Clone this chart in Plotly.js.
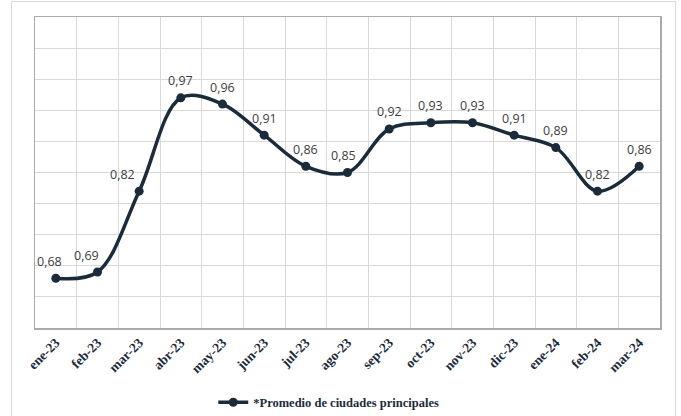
<!DOCTYPE html>
<html>
<head>
<meta charset="utf-8">
<script src="https://cdn.plot.ly/plotly-3.0.1.min.js"></script>
<style>
  html, body { margin: 0; padding: 0; background: #ffffff; }
  #frame { position: absolute; left: 11px; top: 1px; width: 665px; height: 440px; border: 1px solid #d9d9d9; box-sizing: border-box; }
  #chart { position: absolute; left: 0; top: 0; width: 681px; height: 416px; }
</style>
</head>
<body>
<div id="frame"></div>
<div id="chart"></div>
<script>
const months = ["ene-23","feb-23","mar-23","abr-23","may-23","jun-23","jul-23","ago-23","sep-23","oct-23","nov-23","dic-23","ene-24","feb-24","mar-24"];
const values = [0.68, 0.69, 0.82, 0.97, 0.96, 0.91, 0.86, 0.85, 0.92, 0.93, 0.93, 0.91, 0.89, 0.82, 0.86];
const seriesName = "*Promedio de ciudades principales";
const labelShift = [-6, -11, -17, 0, 0, 0, 0, -4, 0, 0, 0, 0, 0, 0, 0];

const navy = "#1c2b3b";

const trace = {
  x: months,
  y: values,
  type: "scatter",
  mode: "lines+markers",
  name: seriesName,
  line: { color: navy, width: 3.5, shape: "spline", smoothing: 1 },
  marker: { color: navy, size: 9 },
  hoverinfo: "none"
};

const annotations = values.map((v, i) => ({
  x: months[i],
  y: v,
  xref: "x",
  yref: "y",
  text: v.toFixed(2).replace(".", ","),
  showarrow: false,
  xanchor: "center",
  yanchor: "middle",
  xshift: labelShift[i],
  yshift: 17,
  font: { family: "Open Sans, sans-serif", size: 12.5, color: "#404040" }
}));

const layout = {
  width: 681,
  height: 416,
  margin: { l: 35, r: 21, t: 17, b: 88, autoexpand: false },
  paper_bgcolor: "rgba(0,0,0,0)",
  plot_bgcolor: "#ffffff",
  showlegend: true,
  legend: {
    orientation: "h",
    x: 0.47, xanchor: "center",
    y: -0.24, yanchor: "middle",
    font: { family: "Liberation Serif, serif", size: 12.5, color: navy, weight: "bold" },
    bgcolor: "rgba(0,0,0,0)"
  },
  xaxis: {
    type: "category",
    range: [-0.5, 14.5],
    tickson: "boundaries",
    showgrid: true,
    gridcolor: "#d9d9d9",
    gridwidth: 1,
    showline: true,
    linecolor: "#ababab",
    linewidth: 1.5,
    mirror: true,
    ticks: "",
    tickangle: -45,
    tickfont: { family: "Liberation Serif, serif", size: 13.5, color: navy, weight: "bold" },
    automargin: false,
    fixedrange: true
  },
  yaxis: {
    range: [0.6, 1.1],
    dtick: 0.05,
    tick0: 0.6,
    showgrid: true,
    gridcolor: "#d9d9d9",
    gridwidth: 1,
    showline: true,
    linecolor: "#ababab",
    linewidth: 1.5,
    mirror: true,
    showticklabels: false,
    ticks: "",
    zeroline: false,
    automargin: false,
    fixedrange: true
  },
  annotations: annotations
};

Plotly.newPlot("chart", [trace], layout, { displayModeBar: false, staticPlot: true });
</script>
</body>
</html>
